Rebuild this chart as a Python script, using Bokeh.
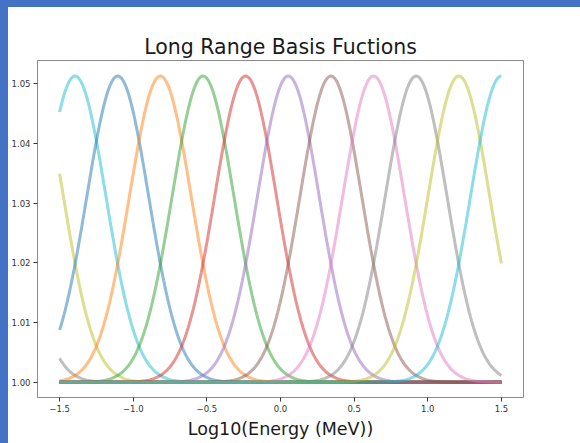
import numpy as np
from bokeh.plotting import figure
from bokeh.models import Range1d, FixedTicker, CustomJSTickFormatter, Div
from bokeh.layouts import column, row
from bokeh.embed import file_html
from bokeh.resources import INLINE

# Basis function centres (log10 energy)
centers = [-4.0, -3.711, -3.421, -3.132, -2.842, -2.553, -2.263, -1.974,
           -1.684, -1.395, -1.105, -0.816, -0.526, -0.237, 0.053, 0.342,
           0.632, 0.921, 1.211, 1.5]
peak_height = 0.0513   # height of each bump above the baseline
bump_sigma = 0.21      # width of each bump
baseline = 1.0
x_min, x_max = -1.5, 1.5

colors = ["#1f77b4", "#ff7f0e", "#2ca02c", "#d62728", "#9467bd",
          "#8c564b", "#e377c2", "#7f7f7f", "#bcbd22", "#17becf"]
x_ticks = [-1.5, -1.0, -0.5, 0.0, 0.5, 1.0, 1.5]
y_ticks = [1.00, 1.01, 1.02, 1.03, 1.04, 1.05]

title = "Long Range Basis Fuctions"
x_label = "Log10(Energy (MeV))"

FONT = "DejaVu Sans"
FRAME = "#8a8a8a"

p = figure(width=572, height=436, output_backend="svg", toolbar_location=None,
           x_range=Range1d(-1.65, 1.65), y_range=Range1d(0.99745, 1.0539),
           min_border_left=27, min_border_right=57, min_border_top=53,
           min_border_bottom=46)
p.grid.visible = False
p.outline_line_color = FRAME
p.outline_line_width = 1
p.background_fill_color = "white"
p.border_fill_color = "white"

xs = np.linspace(x_min, x_max, 400)
for i, c in enumerate(centers):
    ys = baseline + peak_height * np.exp(-(xs - c) ** 2 / (2 * bump_sigma ** 2))
    p.line(xs, ys, line_color=colors[i % len(colors)], line_alpha=0.5, line_width=3)

p.title.text = title
p.title.align = "center"
p.title.text_font = FONT
p.title.text_font_size = "20.5px"
p.title.text_font_style = "normal"
p.title.text_color = "#1a1a1a"
p.title.standoff = 3

for ax in (p.xaxis[0], p.yaxis[0]):
    ax.axis_line_color = FRAME
    ax.major_tick_line_color = "#333333"
    ax.major_tick_out = 4
    ax.major_tick_in = 0
    ax.minor_tick_line_color = None
    ax.major_label_text_font = FONT
    ax.major_label_text_font_size = "8.5px"
    ax.major_label_text_color = "#333333"
    ax.major_label_standoff = 3

p.xaxis.ticker = FixedTicker(ticks=x_ticks)
p.yaxis.ticker = FixedTicker(ticks=y_ticks)
p.xaxis.formatter = CustomJSTickFormatter(
    code="return (tick < 0 ? '\u2212' : '') + Math.abs(tick).toFixed(1);")
p.yaxis.formatter = CustomJSTickFormatter(code="return tick.toFixed(2);")

p.xaxis.axis_label = x_label
p.xaxis.axis_label_text_font = FONT
p.xaxis.axis_label_text_font_size = "17.5px"
p.xaxis.axis_label_text_font_style = "normal"
p.xaxis.axis_label_text_color = "#1a1a1a"
p.xaxis.axis_label_standoff = 4

top_bar = Div(width=580, height=7, margin=0,
              styles={"background-color": "#4472C4"})
left_bar = Div(width=8, height=436, margin=0,
               styles={"background-color": "#4472C4"})
layout = column(top_bar, row(left_bar, p, spacing=0), spacing=0)

open("out.html", "w").write(file_html(layout, INLINE))
